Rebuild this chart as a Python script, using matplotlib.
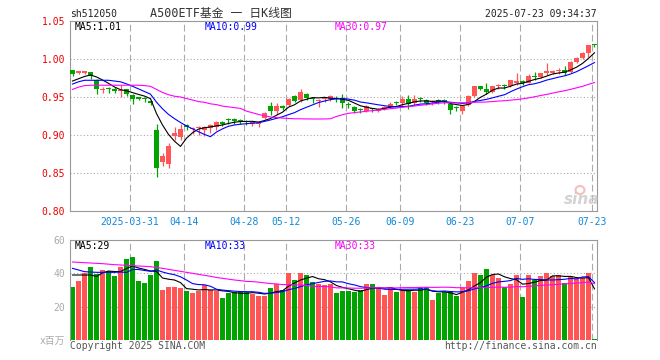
import matplotlib
matplotlib.use("Agg")
import matplotlib.pyplot as plt
from matplotlib.patches import Ellipse
import numpy as np

# daily bars 2025-03-17 .. 2025-07-23 (88 sessions)
opens = [0.985, 0.982, 0.982, 0.983, 0.972, 0.959, 0.961, 0.961, 0.958, 0.960,
         0.953, 0.949, 0.948, 0.945, 0.907, 0.865, 0.862, 0.899, 0.897, 0.913,
         0.908, 0.909, 0.906, 0.909, 0.910, 0.916, 0.921, 0.920, 0.919, 0.918,
         0.915, 0.914, 0.922, 0.938, 0.931, 0.937, 0.939, 0.951, 0.946, 0.954,
         0.948, 0.945, 0.947, 0.947, 0.948, 0.948, 0.941, 0.937, 0.934, 0.931,
         0.935, 0.932, 0.934, 0.937, 0.943, 0.942, 0.947, 0.942, 0.948, 0.946,
         0.943, 0.945, 0.945, 0.941, 0.936, 0.932, 0.939, 0.951, 0.964, 0.960,
         0.957, 0.964, 0.965, 0.964, 0.969, 0.970, 0.969, 0.977, 0.976, 0.982,
         0.982, 0.984, 0.986, 0.983, 0.996, 1.001, 1.008, 1.019]
highs = [0.985, 0.984, 0.984, 0.983, 0.974, 0.963, 0.963, 0.963, 0.966, 0.961,
         0.954, 0.950, 0.950, 0.946, 0.915, 0.876, 0.889, 0.910, 0.914, 0.915,
         0.911, 0.912, 0.912, 0.915, 0.919, 0.919, 0.923, 0.922, 0.921, 0.920,
         0.918, 0.917, 0.930, 0.944, 0.942, 0.939, 0.949, 0.952, 0.961, 0.955,
         0.950, 0.948, 0.950, 0.953, 0.951, 0.954, 0.944, 0.938, 0.936, 0.939,
         0.936, 0.935, 0.938, 0.944, 0.945, 0.951, 0.952, 0.952, 0.950, 0.947,
         0.946, 0.947, 0.947, 0.943, 0.938, 0.939, 0.952, 0.965, 0.965, 0.968,
         0.965, 0.967, 0.967, 0.973, 0.982, 0.972, 0.980, 0.983, 0.982, 0.995,
         0.986, 0.988, 0.991, 0.998, 1.002, 1.009, 1.018, 1.020]
lows = [0.977, 0.980, 0.980, 0.974, 0.954, 0.955, 0.955, 0.955, 0.950, 0.951,
        0.941, 0.946, 0.944, 0.940, 0.845, 0.859, 0.857, 0.894, 0.894, 0.907,
        0.901, 0.900, 0.899, 0.903, 0.907, 0.912, 0.914, 0.915, 0.914, 0.913,
        0.912, 0.911, 0.921, 0.926, 0.928, 0.933, 0.938, 0.944, 0.944, 0.946,
        0.942, 0.937, 0.944, 0.945, 0.944, 0.935, 0.935, 0.929, 0.929, 0.930,
        0.930, 0.930, 0.933, 0.936, 0.940, 0.937, 0.934, 0.940, 0.943, 0.939,
        0.940, 0.941, 0.941, 0.927, 0.932, 0.928, 0.938, 0.950, 0.959, 0.954,
        0.955, 0.961, 0.961, 0.963, 0.966, 0.966, 0.968, 0.972, 0.975, 0.979,
        0.980, 0.980, 0.979, 0.982, 0.995, 1.000, 1.003, 1.016]
closes = [0.980, 0.982, 0.982, 0.977, 0.961, 0.960, 0.960, 0.958, 0.959, 0.954,
          0.948, 0.948, 0.947, 0.942, 0.856, 0.873, 0.886, 0.902, 0.908, 0.910,
          0.909, 0.910, 0.911, 0.913, 0.917, 0.915, 0.920, 0.919, 0.918, 0.917,
          0.916, 0.915, 0.929, 0.932, 0.938, 0.936, 0.948, 0.945, 0.957, 0.949,
          0.947, 0.946, 0.949, 0.951, 0.947, 0.942, 0.939, 0.931, 0.933, 0.938,
          0.934, 0.933, 0.937, 0.941, 0.942, 0.947, 0.941, 0.947, 0.947, 0.942,
          0.944, 0.944, 0.944, 0.933, 0.935, 0.938, 0.951, 0.964, 0.960, 0.956,
          0.964, 0.965, 0.964, 0.972, 0.970, 0.969, 0.978, 0.976, 0.981, 0.983,
          0.983, 0.985, 0.981, 0.996, 1.001, 1.008, 1.018, 1.018]
# volume, millions of shares
volumes = [31.8, 35.6, 40.0, 43.8, 39.5, 42.2, 41.4, 38.4, 43.8, 48.6,
           49.8, 35.4, 34.2, 39.0, 47.4, 30.0, 31.8, 31.8, 31.2, 29.4,
           28.2, 29.6, 33.0, 30.0, 29.5, 25.2, 28.2, 28.8, 28.8, 28.8,
           27.6, 26.4, 26.4, 31.2, 33.6, 30.0, 40.2, 36.0, 40.2, 39.2,
           34.8, 33.6, 33.2, 33.6, 28.2, 29.4, 29.4, 28.8, 30.0, 33.6,
           33.6, 31.2, 27.0, 31.8, 28.8, 30.0, 30.0, 28.8, 31.8, 31.8,
           24.0, 28.2, 28.8, 28.8, 26.4, 31.2, 35.6, 40.2, 39.0, 42.6,
           39.0, 37.2, 31.8, 33.6, 39.2, 25.8, 39.0, 36.0, 38.6, 40.2,
           38.6, 39.2, 34.2, 38.6, 36.6, 37.4, 40.2, 0.6]

# moving averages on the first bars (their history is off the left edge)
ma5_head = [0.971, 0.974, 0.977, 0.979]
ma10_head = [0.967, 0.970, 0.972, 0.972, 0.972, 0.972, 0.972, 0.971, 0.970]
ma30_head = [0.960, 0.963, 0.965, 0.9655, 0.9655, 0.9655, 0.9655, 0.9655, 0.9655, 0.9655,
             0.9655, 0.9655, 0.965, 0.964, 0.960, 0.956, 0.953, 0.951, 0.950, 0.948,
             0.946, 0.944, 0.943, 0.941, 0.940, 0.938, 0.937, 0.936, 0.935]
vma5_head = [39.0, 39.0, 39.0, 39.0]
vma10_head = [43.0, 42.0, 41.0, 40.8, 40.6, 40.6, 40.6, 40.6, 40.8]
vma30_head = [46.8, 46.6, 46.4, 46.2, 46.0, 45.8, 45.5, 45.2, 45.0, 44.8,
              44.6, 44.4, 44.2, 44.0, 43.5, 43.0, 42.4, 41.8, 41.2, 40.6,
              40.0, 39.4, 38.8, 38.2, 37.5, 37.0, 36.5, 36.0, 35.6]

tick_idx = [10, 19, 29, 36, 46, 55, 65, 75, 87]
tick_labels = ['2025-03-31', '04-14', '04-28', '05-12', '05-26',
               '06-09', '06-23', '07-07', '07-23']
price_ticks = [0.80, 0.85, 0.90, 0.95, 1.00, 1.05]
vol_ticks = [0, 20, 40, 60]
vol_tick_labels = ['x百万', '20', '40', '60']


def rolling(vals, n, head):
    out = list(head)
    for i in range(len(head), len(vals)):
        out.append(np.mean(vals[i - n + 1:i + 1]))
    return out


W, H = 660, 360
RED, GREEN = '#ff5555', '#00a300'
GRID = '#aaaaaa'
MONO = 'DejaVu Sans Mono'
CJK = ['DejaVu Sans Mono', 'Noto Sans CJK SC']


def fpos(x, y):
    return x / W, 1 - y / H


o, h, l, c = map(np.array, (opens, highs, lows, closes))
x = np.arange(len(closes))
up = c >= o
cols = np.where(up, RED, GREEN)

fig = plt.figure(figsize=(W / 100, H / 100), dpi=100)
ax = fig.add_axes([70 / W, 1 - 211 / H, 527 / W, 190 / H])
axv = fig.add_axes([70 / W, 1 - 340 / H, 527 / W, 100 / H])
xlim = (-2.5 / 6, 87 + 2.5 / 6)

# price panel
onepx = 0.25 / 190
ax.vlines(x, l, h, colors=cols, lw=0.9, zorder=3)
ax.bar(x, np.maximum(np.abs(c - o), onepx * 1.2), bottom=np.minimum(o, c),
       width=5 / 6, color=cols, linewidth=0, zorder=3)
ax.plot(x, rolling(closes, 5, ma5_head), color='black', lw=0.8, zorder=4)
ax.plot(x, rolling(closes, 10, ma10_head), color='#0000ff', lw=0.8, zorder=4)
ax.plot(x, rolling(closes, 30, ma30_head), color='#ff00ff', lw=0.8, zorder=4)
for lv in price_ticks[1:-1]:
    ax.axhline(lv, color=GRID, lw=0.8, ls=(0, (1, 2)), zorder=0)
for t in tick_idx:
    ax.axvline(t - 2.5 / 6, color=GRID, lw=0.8, ls=(0, (6, 3)), zorder=0)
ax.set_xlim(*xlim)
ax.set_ylim(0.80, 1.05)
ax.set_yticks(price_ticks)
ax.set_yticklabels(['%.2f' % v for v in price_ticks])
ax.set_xticks([t - 2.5 / 6 for t in tick_idx])
ax.set_xticklabels(tick_labels)
ax.tick_params(axis='y', length=0, pad=3.5, labelcolor='#ee0000', labelsize=7)
ax.tick_params(axis='x', length=0, pad=4.5, labelcolor='#1088d8', labelsize=7)
for lab in ax.get_xticklabels() + ax.get_yticklabels():
    lab.set_family(MONO)
for s in ax.spines.values():
    s.set_color('#999999')
    s.set_linewidth(0.8)

# volume panel
axv.bar(x, volumes, width=5 / 6, color=cols, linewidth=0, zorder=2)
axv.plot(x, rolling(volumes, 5, vma5_head), color='black', lw=0.8, zorder=4)
axv.plot(x, rolling(volumes, 10, vma10_head), color='#0000ff', lw=0.8, zorder=4)
axv.plot(x, rolling(volumes, 30, vma30_head), color='#ff00ff', lw=0.8, zorder=4)
for lv in [20, 40]:
    axv.axhline(lv, color=GRID, lw=0.8, ls=(0, (1, 2)), zorder=0)
for t in tick_idx:
    axv.axvline(t - 2.5 / 6, color=GRID, lw=0.8, ls=(0, (6, 3)), zorder=0)
axv.set_xlim(*xlim)
axv.set_ylim(0, 60)
axv.set_xticks([])
axv.set_yticks(vol_ticks)
axv.set_yticklabels(vol_tick_labels)
axv.tick_params(axis='y', length=0, pad=3.5, labelcolor='#aaaaaa', labelsize=7)
for lab in axv.get_yticklabels():
    lab.set_family(CJK)
for k, s in axv.spines.items():
    s.set_color('#999999')
    s.set_linewidth(0.8)
axv.spines['bottom'].set_visible(False)

# header and legends
fig.text(*fpos(70, 17), 'sh512050', family=MONO, fontsize=7, color='#222222')
fig.text(*fpos(150, 17.5), 'A500ETF基金 一 日K线图', family=CJK, fontsize=8.5,
         color='#333333')
fig.text(*fpos(597, 17), '2025-07-23 09:34:37', family=MONO, fontsize=7,
         color='#222222', ha='right')
for y0, texts in [(30, ['MA5:1.01', 'MA10:0.99', 'MA30:0.97']),
                  (249, ['MA5:29', 'MA10:33', 'MA30:33'])]:
    for xx, t, col in zip([75, 205, 335], texts, ['black', '#0000ff', '#ff00ff']):
        fig.text(*fpos(xx, y0), t, family=MONO, fontsize=7, color=col)

# sina watermark (eye drawn as a patch, word as text)
fig.add_artist(Ellipse(fpos(580, 190), 9 / W, 8 / H, transform=fig.transFigure,
                       facecolor='none', edgecolor='#f4b0b0', lw=1.5, alpha=0.8))
fig.text(*fpos(582, 204), 'sina', fontsize=11, style='italic', weight='bold',
         color='#c8c8c8', ha='center', alpha=0.8)
fig.text(*fpos(70, 349), 'Copyright 2025 SINA.COM', family=MONO, fontsize=7,
         color='#555555')
fig.text(*fpos(597, 349), 'http://finance.sina.com.cn', family=MONO, fontsize=7,
         color='#555555', ha='right')

fig.savefig('out.png', dpi=100)
